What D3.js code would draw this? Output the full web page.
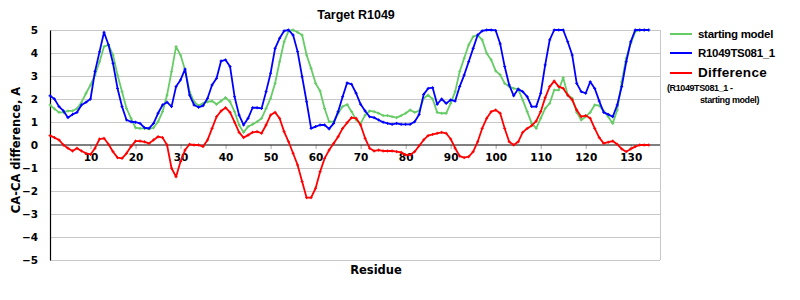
<!DOCTYPE html>
<html><head><meta charset="utf-8">
<script src="https://cdn.jsdelivr.net/npm/d3@7"></script>
<style>body{margin:0;background:#fff}svg{display:block}</style>
</head><body><svg id="c" width="800" height="300"></svg>
<script>
const residues = d3.range(1, 135);
const startingModel = [1.74,1.57,1.42,1.42,1.48,1.48,1.59,1.86,2.25,2.61,3.04,3.62,4.28,4.35,3.91,3.04,2.32,1.59,1.16,0.75,0.72,0.72,0.7,0.75,1.01,1.45,2.17,3.19,4.28,3.91,3.26,2.32,1.88,1.71,
1.81,1.88,1.91,1.77,1.91,2.06,1.88,1.45,0.87,0.55,0.8,0.9,1.01,1.16,1.59,2.03,2.68,3.62,4.49,4.96,5,4.9,4.78,3.91,3.33,2.68,2.35,1.59,1.01,1.01,1.38,1.67,1.76,
1.45,1.09,0.94,1.3,1.48,1.45,1.38,1.28,1.28,1.23,1.19,1.28,1.38,1.52,1.42,1.48,2.03,2.17,2.0,1.42,1.38,1.38,1.81,2.32,3.19,3.77,4.35,4.71,4.78,4.57,3.99,3.7,3.22,
3.05,2.68,2.54,2.46,2.43,1.96,1.45,0.94,0.72,1.16,1.59,1.81,2.39,2.39,2.93,2.17,2.03,1.42,1.09,1.23,1.42,1.74,1.71,1.48,1.23,0.94,1.52,2.75,3.77,4.42,4.93,5,5,5];
const model = [2.14,2.0,1.67,1.48,1.19,1.33,1.42,1.74,1.86,2.0,3.2,4.05,4.9,4.35,3.55,2.46,1.67,1.09,1.01,0.99,0.94,0.75,0.72,0.94,1.38,1.74,1.86,1.67,2.54,2.83,3.3,2.17,1.74,1.64,
1.71,2.03,2.61,2.9,3.65,3.7,3.41,2.1,1.3,0.87,1.16,1.62,1.62,1.59,2.32,3.12,4.2,4.64,4.96,5,4.78,4.06,2.97,1.88,0.72,0.8,0.87,0.87,0.7,0.94,1.45,2.1,2.7,
2.64,2.25,1.77,1.48,1.23,1.19,1.09,0.99,0.94,0.9,0.94,0.9,0.9,0.9,1.01,1.33,2.2,2.46,2.49,1.77,2.0,1.81,1.96,1.91,2.54,3.04,3.62,4.2,4.78,4.96,5,5,4.98,
4.4,3.41,2.61,2.14,2.43,2.32,2.1,1.67,1.67,2.25,3.48,4.57,5,5,5,4.49,3.91,2.68,2.32,2.25,2.75,2.46,1.91,1.42,1.33,1.23,1.74,2.54,3.62,4.49,5,5,5,5];
const difference = [0.41,0.32,0.22,0,-0.14,-0.26,-0.14,-0.26,-0.36,-0.41,-0.14,0.26,0.29,0.03,-0.29,-0.55,-0.58,-0.36,-0.07,0.17,0.17,0.14,0.07,0.22,0.36,0.32,0,-1.01,-1.38,-0.72,-0.22,0.03,0,0,
-0.07,0.22,0.72,1.23,1.48,1.62,1.42,0.99,0.55,0.32,0.43,0.55,0.58,0.51,0.87,1.3,1.42,1.16,0.58,0.14,-0.36,-0.87,-1.59,-2.29,-2.29,-1.88,-1.16,-0.58,-0.22,0.07,0.36,0.72,0.97,
1.19,1.16,0.87,0.29,-0.14,-0.26,-0.22,-0.26,-0.26,-0.26,-0.29,-0.32,-0.43,-0.43,-0.29,-0.03,0.22,0.41,0.46,0.51,0.55,0.51,0.26,-0.14,-0.48,-0.55,-0.51,-0.29,0.14,0.72,1.16,1.45,1.52,
1.38,0.72,0.14,0,0.14,0.55,0.72,0.84,1.04,1.45,2.06,2.54,2.78,2.54,2.46,2.17,1.96,1.52,1.23,1.28,1.16,0.72,0.32,0.07,0.12,0.17,0.03,-0.17,-0.29,-0.17,-0.07,0,0,0];
const xTicks = [10,20,30,40,50,60,70,80,90,100,110,120,130];
const yTicks = [-5,-4,-3,-2,-1,0,1,2,3,4,5];
const series = [
  {name:"starting model", values:startingModel, color:"#66cc66"},
  {name:"R1049TS081_1", values:model, color:"#0000ff"},
  {name:"Difference", values:difference, color:"#ff0000"}
];

const svg = d3.select("#c");
const x = d3.scaleLinear().domain([1, 136.5]).range([50, 660]);
const y = d3.scaleLinear().domain([-5, 5]).range([260, 30]);
const sans = "'DejaVu Sans', Verdana, sans-serif";
const arial = "'Liberation Sans', Arial, sans-serif";

// gridlines
svg.append("g").selectAll("line").data(yTicks.filter(t => t !== 0)).join("line")
  .attr("x1", 50).attr("x2", 660).attr("y1", d => y(d)).attr("y2", d => y(d))
  .attr("stroke", "#c8c8c8").attr("stroke-width", 1).attr("shape-rendering", "crispEdges");
// right border
svg.append("line").attr("x1", 660).attr("x2", 660).attr("y1", 30).attr("y2", 260)
  .attr("stroke", "#c8c8c8").attr("shape-rendering", "crispEdges");

// y axis
const yAxis = d3.axisLeft(y).tickValues(yTicks).tickSize(0).tickPadding(12)
  .tickFormat(d => d < 0 ? "\u2212" + Math.abs(d) : d);
const ya = svg.append("g").attr("transform", "translate(50,0)").call(yAxis);
ya.select(".domain").attr("stroke", "#000").attr("stroke-width", 1.2);
ya.selectAll("text").attr("font-family", sans).attr("font-weight", "bold").attr("font-size", 10.5).attr("fill", "#000");

// x axis on zero line
const xAxis = d3.axisBottom(x).tickValues(xTicks).tickSize(4).tickPadding(5);
const xa = svg.append("g").attr("transform", `translate(0,${y(0)})`).call(xAxis);
xa.select(".domain").remove();
xa.selectAll(".tick line").attr("stroke", "#aaa");
xa.selectAll("text").attr("font-family", sans).attr("font-weight", "bold").attr("font-size", 10.5).attr("fill", "#000");
svg.append("line").attr("x1", 50).attr("x2", 660).attr("y1", y(0)).attr("y2", y(0))
  .attr("stroke", "#000").attr("stroke-width", 1.2);

// lines
const line = d3.line().x((d, i) => x(residues[i])).y(d => y(d));
series.forEach(s => {
  svg.append("path").datum(s.values).attr("d", line)
    .attr("fill", "none").attr("stroke", s.color).attr("stroke-width", 1.8).attr("stroke-linejoin", "round");
  svg.append("g").selectAll("path").data(s.values).join("path")
    .attr("d", (d, i) => `M${x(residues[i])-1.5},${y(d)}h3M${x(residues[i])},${y(d)-1.5}v3`)
    .attr("stroke", s.color).attr("stroke-width", 1);
});

// titles
svg.append("text").attr("x", 356).attr("y", 19).attr("text-anchor", "middle")
  .attr("font-family", arial).attr("font-weight", "bold").attr("font-size", 12.5).text("Target R1049");
svg.append("text").attr("x", 376).attr("y", 274).attr("text-anchor", "middle")
  .attr("font-family", sans).attr("font-weight", "bold").attr("font-size", 11.5).text("Residue");
svg.append("text").attr("transform", "translate(20,150) rotate(-90)").attr("text-anchor", "middle")
  .attr("font-family", sans).attr("font-weight", "bold").attr("font-size", 11.5).text("CA-CA difference, A");

// legend
const lg = svg.append("g");
const legendRows = [{y:34, size:11.5}, {y:53, size:11.5}, {y:73, size:13.5}];
series.forEach((s, i) => {
  const r = legendRows[i];
  lg.append("line").attr("x1", 670).attr("x2", 692).attr("y1", r.y).attr("y2", r.y)
    .attr("stroke", s.color).attr("stroke-width", 2);
  lg.append("text").attr("x", 698).attr("y", r.y + 4).attr("font-family", arial)
    .attr("font-weight", "bold").attr("font-size", r.size).attr("letter-spacing", i === 2 ? 0.3 : -0.3).text(s.name);
});
lg.append("text").attr("x", 667).attr("y", 91).attr("font-family", arial).attr("font-weight", "bold")
  .attr("font-size", 9).attr("letter-spacing", -0.4).text("(R1049TS081_1 -");
lg.append("text").attr("x", 700).attr("y", 103).attr("font-family", arial).attr("font-weight", "bold")
  .attr("font-size", 9).attr("letter-spacing", -0.4).text("starting model)");
</script></body></html>
